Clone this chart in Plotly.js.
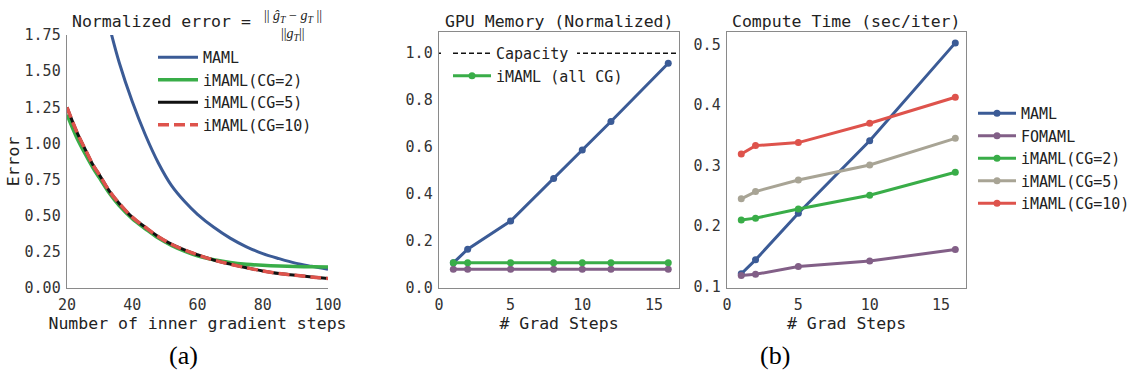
<!DOCTYPE html>
<html>
<head>
<meta charset="utf-8">
<script src="https://cdn.plot.ly/plotly-3.0.1.min.js"></script>
<style>html,body{margin:0;padding:0;background:#fff}#chart{width:1140px;height:372px}</style>
</head>
<body>
<div id="chart"></div>
<script>
// ---------- (a) Normalized error vs inner steps ----------
const innerSteps = [20,23,26,28,30,33,36,40,44,48,52,56,60,65,70,75,80,85,90,95,100];
const mamlSteps  = [33,36,40,44,48,52,56,60,65,70,75,80,85,90,95,100];
const errMAML    = [1.81,1.56,1.29,1.06,0.865,0.71,0.60,0.51,0.42,0.345,0.285,0.238,0.203,0.172,0.150,0.130];
const errCG2     = [1.20,1.04,0.91,0.83,0.76,0.655,0.57,0.48,0.41,0.345,0.295,0.255,0.222,0.195,0.177,0.165,0.157,0.152,0.149,0.147,0.146];
const errCG5     = [1.25,1.08,0.94,0.85,0.78,0.67,0.585,0.49,0.42,0.355,0.303,0.263,0.230,0.193,0.165,0.140,0.118,0.100,0.088,0.076,0.066];
const errCG10    = [1.25,1.08,0.94,0.85,0.78,0.67,0.585,0.49,0.42,0.355,0.303,0.263,0.230,0.193,0.165,0.140,0.118,0.100,0.088,0.076,0.066];
const errTicks   = [0,0.25,0.5,0.75,1.0,1.25,1.5,1.75];
const innerTicks = [20,40,60,80,100];

// ---------- (b) GPU memory ----------
const memSteps   = [1,2,5,8,10,12,16];
const memMAML    = [0.107,0.165,0.285,0.466,0.588,0.709,0.957];
const memFOMAML  = [0.080,0.080,0.080,0.080,0.080,0.080,0.080];
const memIMAML   = [0.108,0.108,0.108,0.108,0.108,0.108,0.108];
const capacity   = 1.0;
const memTicks   = [0,0.2,0.4,0.6,0.8,1.0];

// ---------- (b) Compute time ----------
const timeSteps  = [1,2,5,10,16];
const timeMAML   = [0.121,0.144,0.221,0.341,0.503];
const timeFOMAML = [0.118,0.120,0.133,0.142,0.161];
const timeCG2    = [0.210,0.213,0.228,0.251,0.289];
const timeCG5    = [0.245,0.257,0.276,0.301,0.345];
const timeCG10   = [0.319,0.333,0.338,0.370,0.413];
const timeTicks  = [0.1,0.2,0.3,0.4,0.5];
const gradTicks  = [0,5,10,15];

const C = {blue:'#3b5b96', purple:'#825f87', green:'#39ad48', grey:'#a8a495', red:'#de534c', black:'#111111'};
const MONO = 'DejaVu Sans Mono';
const W = 1140, H = 372;
const px = v => v / W, py = v => 1 - v / H;

const traces = [];
// (a)
traces.push({x:mamlSteps, y:errMAML, type:'scatter', mode:'lines', name:'MAML', line:{color:C.blue, width:3, shape:'spline', smoothing:1}, xaxis:'x', yaxis:'y', legend:'legend'});
traces.push({x:innerSteps, y:errCG2, type:'scatter', mode:'lines', name:'iMAML(CG=2)', line:{color:C.green, width:3.5, shape:'spline', smoothing:1}, xaxis:'x', yaxis:'y', legend:'legend'});
traces.push({x:innerSteps, y:errCG5, type:'scatter', mode:'lines', name:'iMAML(CG=5)', line:{color:C.black, width:3, shape:'spline', smoothing:1}, xaxis:'x', yaxis:'y', legend:'legend'});
traces.push({x:innerSteps, y:errCG10, type:'scatter', mode:'lines', name:'iMAML(CG=10)', line:{color:C.red, width:3.5, dash:'11px,5px', shape:'spline', smoothing:1}, xaxis:'x', yaxis:'y', legend:'legend'});
// (b) memory
traces.push({x:[0, 16.75], y:[capacity, capacity], type:'scatter', mode:'lines', name:'Capacity', line:{color:C.black, width:1.5, dash:'5px,3px'}, xaxis:'x2', yaxis:'y2', legend:'legend2', legendrank:1});
traces.push({x:memSteps, y:memMAML, type:'scatter', mode:'lines+markers', name:'MAML', showlegend:false, line:{color:C.blue, width:3}, marker:{size:7, color:C.blue}, xaxis:'x2', yaxis:'y2'});
traces.push({x:memSteps, y:memFOMAML, type:'scatter', mode:'lines+markers', name:'FOMAML', showlegend:false, line:{color:C.purple, width:3}, marker:{size:7, color:C.purple}, xaxis:'x2', yaxis:'y2'});
traces.push({x:memSteps, y:memIMAML, type:'scatter', mode:'lines+markers', name:'iMAML (all CG)', line:{color:C.green, width:3}, marker:{size:7, color:C.green}, xaxis:'x2', yaxis:'y2', legend:'legend2', legendrank:2});
// (b) time
const timeSeries = [['MAML',timeMAML,C.blue],['FOMAML',timeFOMAML,C.purple],['iMAML(CG=2)',timeCG2,C.green],['iMAML(CG=5)',timeCG5,C.grey],['iMAML(CG=10)',timeCG10,C.red]];
timeSeries.forEach(([n, ys, c]) => traces.push({x:timeSteps, y:ys, type:'scatter', mode:'lines+markers', name:n, line:{color:c, width:3}, marker:{size:7, color:c}, xaxis:'x3', yaxis:'y3', legend:'legend3'}));

const tickFont = {family:MONO, size:15, color:'#333'};
const titleFont = {family:MONO, size:16.5, color:'#222'};
const axBase = {showgrid:false, zeroline:false, ticks:'', showline:true, linecolor:'#8a8a8a', linewidth:1.3, tickfont:tickFont, automargin:false};
const xBase = Object.assign({}, axBase, {ticklabelstandoff:3});
const yBase = Object.assign({}, axBase, {ticklabelstandoff:2});
const yDom = [py(288), py(32)];
const legFont = {family:MONO, size:15, color:'#222'};

const layout = {
  width:W, height:H, margin:{l:0, r:0, t:0, b:0}, paper_bgcolor:'#fff', plot_bgcolor:'#fff', showlegend:true,
  xaxis:Object.assign({}, xBase, {domain:[px(67), px(328)], range:[20,100], tickvals:innerTicks, anchor:'y',
        title:{text:'Number of inner gradient steps', font:titleFont, standoff:0}}),
  yaxis:Object.assign({}, yBase, {domain:[py(288), py(35)], range:[0,1.75], tickvals:errTicks, tickformat:'.2f', anchor:'x',
        title:{text:'Error', font:titleFont, standoff:0}}),
  xaxis2:Object.assign({}, xBase, {domain:[px(439), px(679)], range:[0,16.75], tickvals:gradTicks, mirror:true, anchor:'y2',
        title:{text:'# Grad Steps', font:titleFont, standoff:0}}),
  yaxis2:Object.assign({}, yBase, {domain:yDom, range:[0,1.09], tickvals:memTicks, tickformat:'.1f', mirror:true, anchor:'x2'}),
  xaxis3:Object.assign({}, xBase, {domain:[px(727), px(966)], range:[0,16.75], tickvals:gradTicks, mirror:true, anchor:'y3',
        title:{text:'# Grad Steps', font:titleFont, standoff:0}}),
  yaxis3:Object.assign({}, yBase, {domain:yDom, range:[0.0974,0.521], tickvals:timeTicks, tickformat:'.1f', mirror:true, anchor:'x3'}),
  legend:{x:px(153), y:py(41), xanchor:'left', yanchor:'top', bgcolor:'rgba(0,0,0,0)', font:legFont, itemwidth:40},
  legend2:{x:px(448), y:py(37), xanchor:'left', yanchor:'top', bgcolor:'rgba(0,0,0,0)', font:legFont, itemwidth:38, traceorder:'normal'},
  legend3:{x:px(973), y:py(97), xanchor:'left', yanchor:'top', bgcolor:'rgba(0,0,0,0)', font:legFont, itemwidth:38},
  shapes:[
    {type:'rect', xref:'paper', yref:'paper', x0:px(441), x1:px(577), y0:py(62), y1:py(43), fillcolor:'#fff', line:{width:0}, layer:'above'}
  ],
  annotations:[
    {text:'Normalized error =', xref:'paper', yref:'paper', x:px(70), y:py(22), xanchor:'left', yanchor:'middle', showarrow:false, font:{family:MONO, size:16.5, color:'#222'}},
    {text:'|| <i>ĝ</i><sub><i>T</i></sub> − <i>g</i><sub><i>T</i></sub> ||', xref:'paper', yref:'paper', x:px(293), y:py(17), xanchor:'center', yanchor:'middle', showarrow:false, font:{family:'Liberation Serif', size:14, color:'#222'}},
    {text:'||<i>g</i><sub><i>T</i></sub>||', xref:'paper', yref:'paper', x:px(293), y:py(34), xanchor:'center', yanchor:'middle', showarrow:false, font:{family:'Liberation Serif', size:14, color:'#222'}},
    {text:'GPU Memory (Normalized)', xref:'paper', yref:'paper', x:px(559), y:py(22), xanchor:'center', yanchor:'middle', showarrow:false, font:titleFont},
    {text:'Compute Time (sec/iter)', xref:'paper', yref:'paper', x:px(846), y:py(22), xanchor:'center', yanchor:'middle', showarrow:false, font:titleFont},
    {text:'(a)', xref:'paper', yref:'paper', x:px(183), y:py(355), xanchor:'center', yanchor:'middle', showarrow:false, font:{family:'Liberation Serif', size:26, color:'#000'}},
    {text:'(b)', xref:'paper', yref:'paper', x:px(775), y:py(355), xanchor:'center', yanchor:'middle', showarrow:false, font:{family:'Liberation Serif', size:26, color:'#000'}}
  ]
};

Plotly.newPlot('chart', traces, layout, {displayModeBar:false, staticPlot:true});
</script>
</body>
</html>
